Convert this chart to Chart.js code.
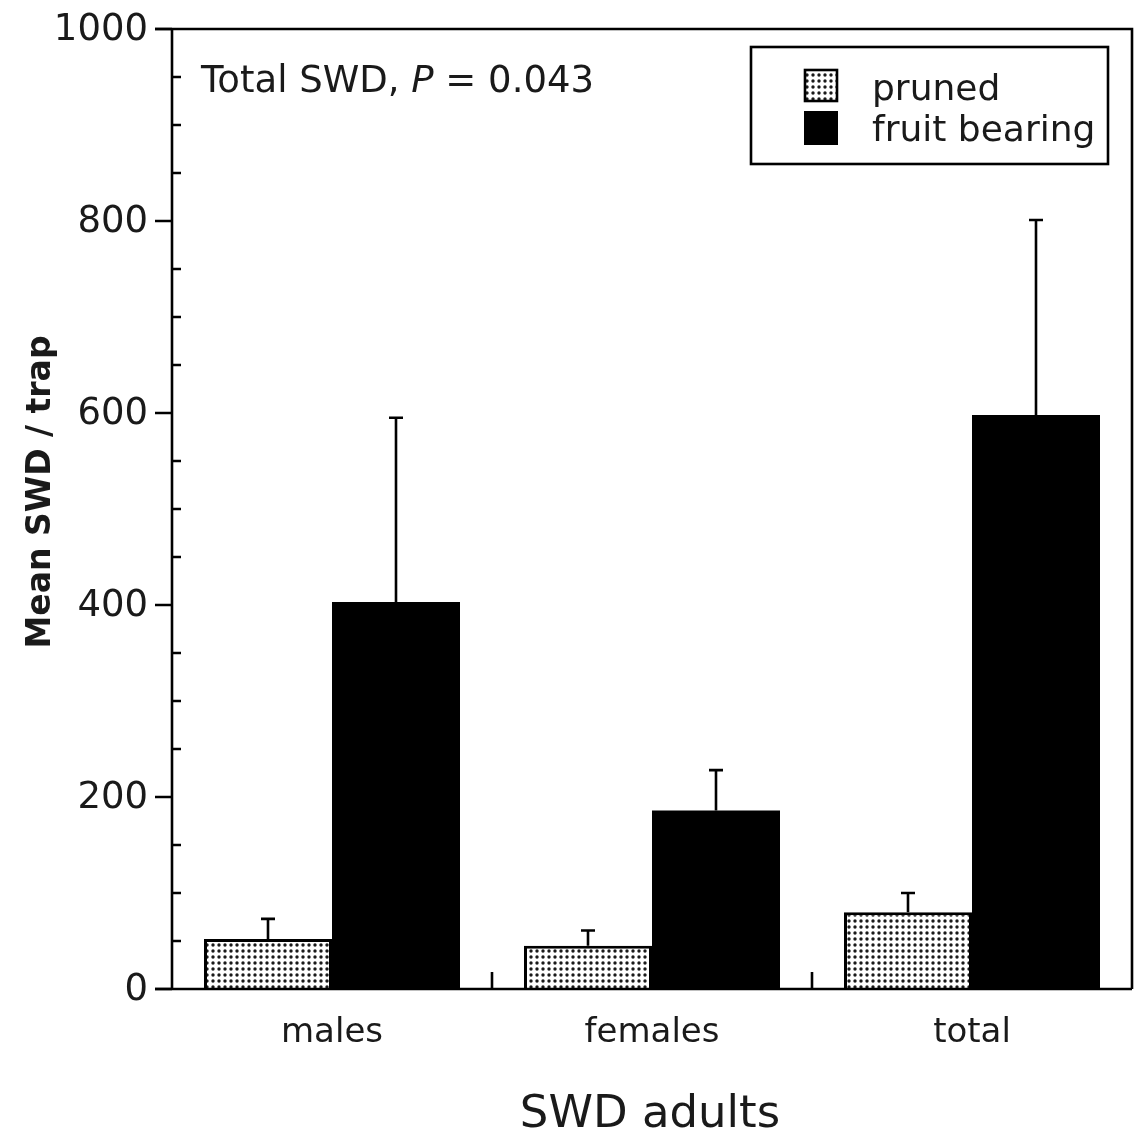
<!DOCTYPE html>
<html>
<head>
<meta charset="utf-8">
<script src="https://cdn.jsdelivr.net/npm/chart.js@4/dist/chart.umd.min.js"></script>
<style>
  html, body { margin: 0; padding: 0; background: #fff; }
  canvas { display: block; }
</style>
</head>
<body>
<canvas id="myChart" width="1138" height="1136"></canvas>
<script>
// SWD trap catches by plot type
const categories = ['males', 'females', 'total'];
const seriesNames = ['pruned', 'fruit bearing'];
const pruned = [52, 45, 80];
const prunedErr = [21, 16, 20];
const fruit = [403, 186, 598];
const fruitErr = [192, 42, 203];
const yTicks = [0, 200, 400, 600, 800, 1000];
const yMinorStep = 50;

const FONT = '"DejaVu Sans", "Liberation Sans", sans-serif';
const INK = '#1a1a1a';
const LW = 2.6;

// stippled fill used for the pruned bars
function makeStipple() {
    const c = document.createElement('canvas');
    c.width = 6; c.height = 6;
    const g = c.getContext('2d');
    g.fillStyle = '#fff';
    g.fillRect(0, 0, 6, 6);
    g.fillStyle = '#1a1a1a';
    g.beginPath();
    g.arc(3, 3, 1.7, 0, Math.PI * 2);
    g.fill();
    return g.createPattern(c, 'repeat');
}

const ctx = document.getElementById('myChart').getContext('2d');
const stipple = makeStipple();

const decorations = {
    id: 'decorations',
    afterDatasetsDraw(chart) {
        const g = chart.ctx;
        const area = chart.chartArea;
        const xs = chart.scales.x;
        const ys = chart.scales.y;
        g.save();
        g.strokeStyle = '#000';
        g.lineWidth = LW;
        g.lineCap = 'butt';

        // error bars (upper half only)
        const errs = [prunedErr, fruitErr];
        const vals = [pruned, fruit];
        [0, 1].forEach(d => {
            const meta = chart.getDatasetMeta(d);
            meta.data.forEach((bar, i) => {
                const top = ys.getPixelForValue(vals[d][i] + errs[d][i]);
                const x = Math.round(bar.x);
                g.beginPath();
                g.moveTo(x, bar.y);
                g.lineTo(x, top);
                g.moveTo(x - 7, top);
                g.lineTo(x + 7, top);
                g.stroke();
            });
        });

        // frame
        g.beginPath();
        g.moveTo(area.left, area.bottom);
        g.lineTo(area.left, area.top);
        g.moveTo(area.left - 17, area.top);
        g.lineTo(area.right, area.top);
        g.lineTo(area.right, area.bottom);
        g.moveTo(area.left - 17, area.bottom);
        g.lineTo(area.right, area.bottom);
        g.stroke();

        // y ticks: majors outside, minors inside
        g.beginPath();
        for (let v = 0; v <= 1000; v += yMinorStep) {
            const y = Math.round(ys.getPixelForValue(v));
            if (yTicks.includes(v)) {
                g.moveTo(area.left - 17, y);
                g.lineTo(area.left, y);
            } else {
                g.moveTo(area.left, y);
                g.lineTo(area.left + 9, y);
            }
        }
        // x dividers between categories
        for (let i = 0; i < categories.length - 1; i++) {
            const x = Math.round((xs.getPixelForValue(i) + xs.getPixelForValue(i + 1)) / 2);
            g.moveTo(x, area.bottom);
            g.lineTo(x, area.bottom - 17);
        }
        g.stroke();

        g.fillStyle = INK;
        g.font = '37px ' + FONT;
        g.textAlign = 'right';
        g.textBaseline = 'middle';
        yTicks.forEach(v => {
            g.fillText(String(v), area.left - 24, ys.getPixelForValue(v) + 1);
        });

        g.font = '34px ' + FONT;
        g.textAlign = 'center';
        g.textBaseline = 'alphabetic';
        categories.forEach((c, i) => {
            g.fillText(c, xs.getPixelForValue(i), 1042);
        });

        g.font = '45px ' + FONT;
        g.fillText('SWD adults', (area.left + area.right) / 2 - 2, 1127);

        // y title
        g.save();
        g.translate(50, (area.top + area.bottom) / 2 - 17);
        g.rotate(-Math.PI / 2);
        g.font = 'bold 33px ' + FONT;
        g.fillText('Mean SWD / trap', 0, 0);
        g.restore();

        // annotation with italic P
        g.textAlign = 'left';
        g.font = '37px ' + FONT;
        let tx = 201;
        const ty = 92;
        const a = 'Total SWD, ';
        g.fillText(a, tx, ty);
        tx += g.measureText(a).width;
        g.font = 'italic 37px ' + FONT;
        g.fillText('P', tx, ty);
        tx += g.measureText('P').width;
        g.font = '37px ' + FONT;
        g.fillText(' = 0.043', tx, ty);

        // legend
        g.strokeRect(751, 47, 357, 117);
        g.fillStyle = stipple;
        g.fillRect(804, 69, 34, 33);
        g.strokeRect(805, 70, 32, 31);
        g.fillStyle = '#000';
        g.fillRect(804, 111, 34, 34);
        g.fillStyle = INK;
        g.font = '36px ' + FONT;
        g.fillText(seriesNames[0], 872, 100);
        g.fillText(seriesNames[1], 872, 141);

        g.restore();
    }
};

new Chart(ctx, {
    type: 'bar',
    data: {
        labels: categories,
        datasets: [{
            label: seriesNames[0],
            data: pruned,
            backgroundColor: stipple,
            borderColor: '#000',
            borderWidth: 3,
            categoryPercentage: 0.8,
            barPercentage: 1.0
        }, {
            label: seriesNames[1],
            data: fruit,
            backgroundColor: '#000',
            borderWidth: 0,
            categoryPercentage: 0.8,
            barPercentage: 1.0
        }]
    },
    options: {
        responsive: false,
        animation: false,
        devicePixelRatio: 1,
        layout: { padding: { left: 172, top: 29, right: 6, bottom: 147 } },
        plugins: {
            legend: { display: false },
            tooltip: { enabled: false }
        },
        scales: {
            x: { display: false, offset: true },
            y: { display: false, min: 0, max: 1000 }
        }
    },
    plugins: [decorations]
});
</script>
</body>
</html>
